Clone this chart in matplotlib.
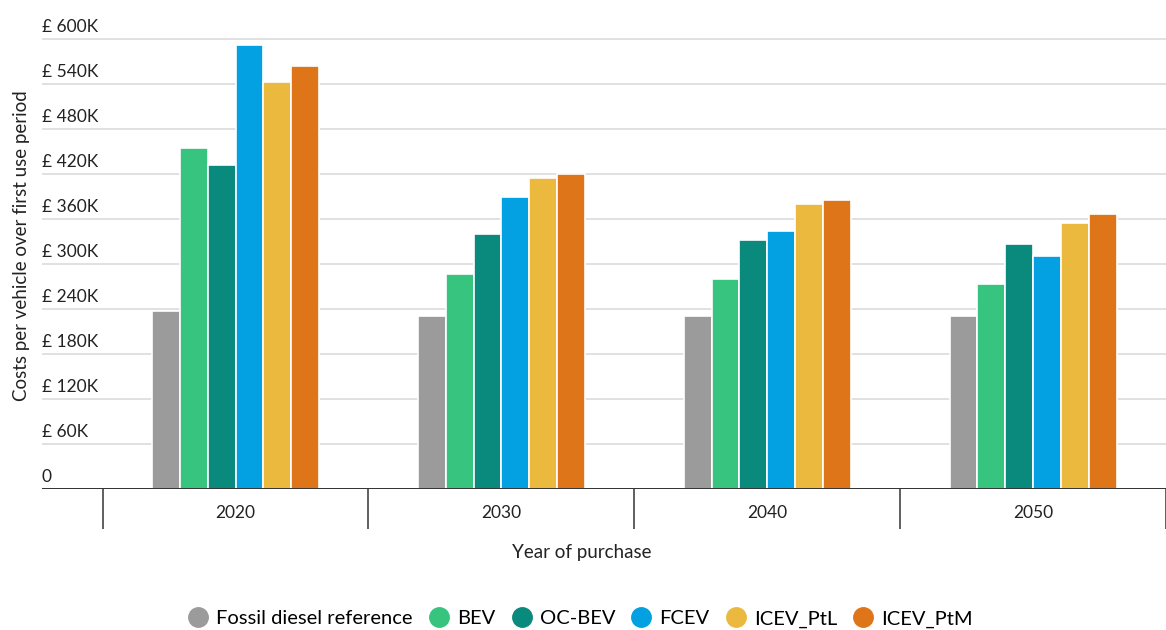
import matplotlib.pyplot as plt
import numpy as np

plt.rcParams['font.family'] = ['Lato', 'DejaVu Sans']

years = ['2020', '2030', '2040', '2050']
series = ['Fossil diesel reference', 'BEV', 'OC-BEV', 'FCEV', 'ICEV_PtL', 'ICEV_PtM']
colors = ['#9b9b9b', '#36c47f', '#0a8a7c', '#03a0e2', '#ecb93f', '#de7519']

# cost per vehicle, thousand GBP
fossil = [238, 231, 231, 231]
bev = [455, 287, 280, 274]
oc_bev = [432, 341, 333, 327]
fcev = [593, 390, 345, 311]
icev_ptl = [543, 415, 380, 355]
icev_ptm = [564, 420, 386, 367]
values = [fossil, bev, oc_bev, fcev, icev_ptl, icev_ptm]

yticks = [0, 60, 120, 180, 240, 300, 360, 420, 480, 540, 600]

fig = plt.figure(figsize=(11.66, 6.30), dpi=100)
ax = fig.add_axes([0.036, 0.2233, 0.964, 0.738])

x = np.arange(len(years))
step = 0.1047
for i, (name, vals, c) in enumerate(zip(series, values, colors)):
    ax.bar(x + (i - 2.5) * step, vals, width=step, color=c,
           edgecolor='white', linewidth=1.2, label=name, zorder=3)

ax.set_xlim(-0.728, 3.474)
ax.set_ylim(0, 620)

# gridlines with labels sitting just above them
ax.set_yticks(yticks)
ax.tick_params(axis='y', length=0, labelleft=False)
ax.grid(axis='y', color='#d9d9d9', linewidth=1.1, zorder=0)
for t in yticks:
    lab = '0' if t == 0 else f'£ {t}K'
    ax.text(0.0, t + 6, lab, transform=ax.get_yaxis_transform(),
            ha='left', va='bottom', fontsize=12.5, color='#222222')
ax.axhline(0, color='#222222', linewidth=2, zorder=4)

for s in ax.spines.values():
    s.set_visible(False)

ax.set_xticks(x)
ax.set_xticklabels(years, fontsize=12.5, color='#222222')
ax.set_xticks(np.arange(-0.5, 3.6, 1.0), minor=True)
ax.tick_params(axis='x', which='major', length=0, pad=11)
ax.tick_params(axis='x', which='minor', length=29, width=1.2, color='#444444')

ax.set_xlabel('Year of purchase', fontsize=13.5, color='#222222')
ax.xaxis.set_label_coords(0.48, -0.118)
ax.set_ylabel('Costs per vehicle over first use period', fontsize=13.5, color='#222222')
ax.yaxis.set_label_coords(-0.011, 0.524)

handles = [plt.Line2D([], [], marker='o', linestyle='', markersize=14,
                      markerfacecolor=c, markeredgecolor=c) for c in colors]
fig.legend(handles, series, loc='center', bbox_to_anchor=(0.4975, 0.0175),
           ncol=6, frameon=False, fontsize=14.5, handletextpad=0.35,
           columnspacing=0.75, handlelength=1.1)

fig.savefig('out.png', dpi=100)
